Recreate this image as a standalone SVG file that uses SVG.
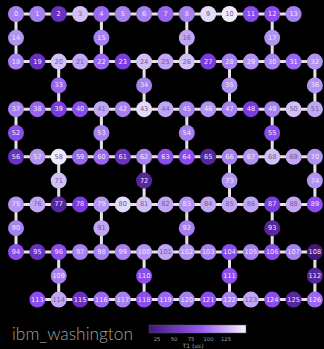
<svg xmlns="http://www.w3.org/2000/svg" width="324" height="349" viewBox="0 0 324 349">
<defs>
<style>
.e{stroke:#e2e2e2;stroke-width:3;fill:none}
text.n{font-family:"DejaVu Sans",sans-serif;font-size:6.6px;text-anchor:middle;dominant-baseline:central;fill:#efe9fb}
.s1{fill:#42187a}.s2{fill:#56269e}.s3{fill:#6a30c2}.s4{fill:#7a3ce0}.s5{fill:#8a4cec}.s6{fill:#9a66f0}
.s7{fill:#a680f0}.s8{fill:#b292f3}.s9{fill:#c2a6f5}.s10{fill:#d2bff7}.s11{fill:#e4d9fa}.s12{fill:#f0e9fd}
.s9+text.n,.s10+text.n,.s11+text.n,.s12+text.n{fill:#6e5f8c}
.lb{font-family:"DejaVu Sans",sans-serif;fill:#a0a0a0}
</style>
<linearGradient id="cb" x1="0" x2="1" y1="0" y2="0">
<stop offset="0" stop-color="#40187e"/><stop offset="0.55" stop-color="#9a5cf5"/><stop offset="1" stop-color="#f7f3ff"/>
</linearGradient>
</defs>
<rect width="324" height="349" fill="#000"/>
<g id="connectors">
<path class="e" d="M16 14H293.6M16 61.6H314.9M16 109.2H314.9M16 156.8H314.9M16 204.4H314.9M16 252H314.9M37.4 299.6H314.9"/>
<path class="e" d="M16 14V61.6M101.4 14V61.6M186.8 14V61.6M272.2 14V61.6M58.7 61.6V109.2M144.1 61.6V109.2M229.5 61.6V109.2M314.9 61.6V109.2M16 109.2V156.8M101.4 109.2V156.8M186.8 109.2V156.8M272.2 109.2V156.8M58.7 156.8V204.4M144.1 156.8V204.4M229.5 156.8V204.4M314.9 156.8V204.4M16 204.4V252M101.4 204.4V252M186.8 204.4V252M272.2 204.4V252M58.7 252V299.6M144.1 252V299.6M229.5 252V299.6M314.9 252V299.6"/>
</g>
<g id="q0"><circle class="s7" cx="16" cy="14" r="8"/><text class="n" x="16" y="14">0</text></g>
<g id="q1"><circle class="s7" cx="37.4" cy="14" r="8"/><text class="n" x="37.4" y="14">1</text></g>
<g id="q2"><circle class="s3" cx="58.7" cy="14" r="8"/><text class="n" x="58.7" y="14">2</text></g>
<g id="q3"><circle class="s10" cx="80.1" cy="14" r="8"/><text class="n" x="80.1" y="14">3</text></g>
<g id="q4"><circle class="s6" cx="101.4" cy="14" r="8"/><text class="n" x="101.4" y="14">4</text></g>
<g id="q5"><circle class="s7" cx="122.8" cy="14" r="8"/><text class="n" x="122.8" y="14">5</text></g>
<g id="q6"><circle class="s7" cx="144.1" cy="14" r="8"/><text class="n" x="144.1" y="14">6</text></g>
<g id="q7"><circle class="s6" cx="165.5" cy="14" r="8"/><text class="n" x="165.5" y="14">7</text></g>
<g id="q8"><circle class="s7" cx="186.8" cy="14" r="8"/><text class="n" x="186.8" y="14">8</text></g>
<g id="q9"><circle class="s11" cx="208.2" cy="14" r="8"/><text class="n" x="208.2" y="14">9</text></g>
<g id="q10"><circle class="s12" cx="229.5" cy="14" r="8"/><text class="n" x="229.5" y="14">10</text></g>
<g id="q11"><circle class="s5" cx="250.9" cy="14" r="8"/><text class="n" x="250.9" y="14">11</text></g>
<g id="q12"><circle class="s5" cx="272.2" cy="14" r="8"/><text class="n" x="272.2" y="14">12</text></g>
<g id="q13"><circle class="s7" cx="293.6" cy="14" r="8"/><text class="n" x="293.6" y="14">13</text></g>
<g id="q14"><circle class="s8" cx="16" cy="37.8" r="8"/><text class="n" x="16" y="37.8">14</text></g>
<g id="q15"><circle class="s7" cx="101.4" cy="37.8" r="8"/><text class="n" x="101.4" y="37.8">15</text></g>
<g id="q16"><circle class="s9" cx="186.8" cy="37.8" r="8"/><text class="n" x="186.8" y="37.8">16</text></g>
<g id="q17"><circle class="s8" cx="272.2" cy="37.8" r="8"/><text class="n" x="272.2" y="37.8">17</text></g>
<g id="q18"><circle class="s7" cx="16" cy="61.6" r="8"/><text class="n" x="16" y="61.6">18</text></g>
<g id="q19"><circle class="s3" cx="37.4" cy="61.6" r="8"/><text class="n" x="37.4" y="61.6">19</text></g>
<g id="q20"><circle class="s10" cx="58.7" cy="61.6" r="8"/><text class="n" x="58.7" y="61.6">20</text></g>
<g id="q21"><circle class="s9" cx="80.1" cy="61.6" r="8"/><text class="n" x="80.1" y="61.6">21</text></g>
<g id="q22"><circle class="s6" cx="101.4" cy="61.6" r="8"/><text class="n" x="101.4" y="61.6">22</text></g>
<g id="q23"><circle class="s4" cx="122.8" cy="61.6" r="8"/><text class="n" x="122.8" y="61.6">23</text></g>
<g id="q24"><circle class="s10" cx="144.1" cy="61.6" r="8"/><text class="n" x="144.1" y="61.6">24</text></g>
<g id="q25"><circle class="s9" cx="165.5" cy="61.6" r="8"/><text class="n" x="165.5" y="61.6">25</text></g>
<g id="q26"><circle class="s10" cx="186.8" cy="61.6" r="8"/><text class="n" x="186.8" y="61.6">26</text></g>
<g id="q27"><circle class="s4" cx="208.2" cy="61.6" r="8"/><text class="n" x="208.2" y="61.6">27</text></g>
<g id="q28"><circle class="s7" cx="229.5" cy="61.6" r="8"/><text class="n" x="229.5" y="61.6">28</text></g>
<g id="q29"><circle class="s8" cx="250.9" cy="61.6" r="8"/><text class="n" x="250.9" y="61.6">29</text></g>
<g id="q30"><circle class="s7" cx="272.2" cy="61.6" r="8"/><text class="n" x="272.2" y="61.6">30</text></g>
<g id="q31"><circle class="s6" cx="293.6" cy="61.6" r="8"/><text class="n" x="293.6" y="61.6">31</text></g>
<g id="q32"><circle class="s8" cx="314.9" cy="61.6" r="8"/><text class="n" x="314.9" y="61.6">32</text></g>
<g id="q33"><circle class="s6" cx="58.7" cy="85.4" r="8"/><text class="n" x="58.7" y="85.4">33</text></g>
<g id="q34"><circle class="s7" cx="144.1" cy="85.4" r="8"/><text class="n" x="144.1" y="85.4">34</text></g>
<g id="q35"><circle class="s8" cx="229.5" cy="85.4" r="8"/><text class="n" x="229.5" y="85.4">35</text></g>
<g id="q36"><circle class="s8" cx="314.9" cy="85.4" r="8"/><text class="n" x="314.9" y="85.4">36</text></g>
<g id="q37"><circle class="s7" cx="16" cy="109.2" r="8"/><text class="n" x="16" y="109.2">37</text></g>
<g id="q38"><circle class="s6" cx="37.4" cy="109.2" r="8"/><text class="n" x="37.4" y="109.2">38</text></g>
<g id="q39"><circle class="s4" cx="58.7" cy="109.2" r="8"/><text class="n" x="58.7" y="109.2">39</text></g>
<g id="q40"><circle class="s5" cx="80.1" cy="109.2" r="8"/><text class="n" x="80.1" y="109.2">40</text></g>
<g id="q41"><circle class="s9" cx="101.4" cy="109.2" r="8"/><text class="n" x="101.4" y="109.2">41</text></g>
<g id="q42"><circle class="s7" cx="122.8" cy="109.2" r="8"/><text class="n" x="122.8" y="109.2">42</text></g>
<g id="q43"><circle class="s11" cx="144.1" cy="109.2" r="8"/><text class="n" x="144.1" y="109.2">43</text></g>
<g id="q44"><circle class="s9" cx="165.5" cy="109.2" r="8"/><text class="n" x="165.5" y="109.2">44</text></g>
<g id="q45"><circle class="s7" cx="186.8" cy="109.2" r="8"/><text class="n" x="186.8" y="109.2">45</text></g>
<g id="q46"><circle class="s8" cx="208.2" cy="109.2" r="8"/><text class="n" x="208.2" y="109.2">46</text></g>
<g id="q47"><circle class="s7" cx="229.5" cy="109.2" r="8"/><text class="n" x="229.5" y="109.2">47</text></g>
<g id="q48"><circle class="s4" cx="250.9" cy="109.2" r="8"/><text class="n" x="250.9" y="109.2">48</text></g>
<g id="q49"><circle class="s7" cx="272.2" cy="109.2" r="8"/><text class="n" x="272.2" y="109.2">49</text></g>
<g id="q50"><circle class="s10" cx="293.6" cy="109.2" r="8"/><text class="n" x="293.6" y="109.2">50</text></g>
<g id="q51"><circle class="s9" cx="314.9" cy="109.2" r="8"/><text class="n" x="314.9" y="109.2">51</text></g>
<g id="q52"><circle class="s5" cx="16" cy="133" r="8"/><text class="n" x="16" y="133">52</text></g>
<g id="q53"><circle class="s7" cx="101.4" cy="133" r="8"/><text class="n" x="101.4" y="133">53</text></g>
<g id="q54"><circle class="s7" cx="186.8" cy="133" r="8"/><text class="n" x="186.8" y="133">54</text></g>
<g id="q55"><circle class="s5" cx="272.2" cy="133" r="8"/><text class="n" x="272.2" y="133">55</text></g>
<g id="q56"><circle class="s3" cx="16" cy="156.8" r="8"/><text class="n" x="16" y="156.8">56</text></g>
<g id="q57"><circle class="s8" cx="37.4" cy="156.8" r="8"/><text class="n" x="37.4" y="156.8">57</text></g>
<g id="q58"><circle class="s12" cx="58.7" cy="156.8" r="8"/><text class="n" x="58.7" y="156.8">58</text></g>
<g id="q59"><circle class="s6" cx="80.1" cy="156.8" r="8"/><text class="n" x="80.1" y="156.8">59</text></g>
<g id="q60"><circle class="s6" cx="101.4" cy="156.8" r="8"/><text class="n" x="101.4" y="156.8">60</text></g>
<g id="q61"><circle class="s3" cx="122.8" cy="156.8" r="8"/><text class="n" x="122.8" y="156.8">61</text></g>
<g id="q62"><circle class="s7" cx="144.1" cy="156.8" r="8"/><text class="n" x="144.1" y="156.8">62</text></g>
<g id="q63"><circle class="s5" cx="165.5" cy="156.8" r="8"/><text class="n" x="165.5" y="156.8">63</text></g>
<g id="q64"><circle class="s5" cx="186.8" cy="156.8" r="8"/><text class="n" x="186.8" y="156.8">64</text></g>
<g id="q65"><circle class="s2" cx="208.2" cy="156.8" r="8"/><text class="n" x="208.2" y="156.8">65</text></g>
<g id="q66"><circle class="s7" cx="229.5" cy="156.8" r="8"/><text class="n" x="229.5" y="156.8">66</text></g>
<g id="q67"><circle class="s8" cx="250.9" cy="156.8" r="8"/><text class="n" x="250.9" y="156.8">67</text></g>
<g id="q68"><circle class="s10" cx="272.2" cy="156.8" r="8"/><text class="n" x="272.2" y="156.8">68</text></g>
<g id="q69"><circle class="s9" cx="293.6" cy="156.8" r="8"/><text class="n" x="293.6" y="156.8">69</text></g>
<g id="q70"><circle class="s8" cx="314.9" cy="156.8" r="8"/><text class="n" x="314.9" y="156.8">70</text></g>
<g id="q71"><circle class="s10" cx="58.7" cy="180.6" r="8"/><text class="n" x="58.7" y="180.6">71</text></g>
<g id="q72"><circle class="s2" cx="144.1" cy="180.6" r="8"/><text class="n" x="144.1" y="180.6">72</text></g>
<g id="q73"><circle class="s8" cx="229.5" cy="180.6" r="8"/><text class="n" x="229.5" y="180.6">73</text></g>
<g id="q74"><circle class="s8" cx="314.9" cy="180.6" r="8"/><text class="n" x="314.9" y="180.6">74</text></g>
<g id="q75"><circle class="s8" cx="16" cy="204.4" r="8"/><text class="n" x="16" y="204.4">75</text></g>
<g id="q76"><circle class="s9" cx="37.4" cy="204.4" r="8"/><text class="n" x="37.4" y="204.4">76</text></g>
<g id="q77"><circle class="s2" cx="58.7" cy="204.4" r="8"/><text class="n" x="58.7" y="204.4">77</text></g>
<g id="q78"><circle class="s4" cx="80.1" cy="204.4" r="8"/><text class="n" x="80.1" y="204.4">78</text></g>
<g id="q79"><circle class="s8" cx="101.4" cy="204.4" r="8"/><text class="n" x="101.4" y="204.4">79</text></g>
<g id="q80"><circle class="s11" cx="122.8" cy="204.4" r="8"/><text class="n" x="122.8" y="204.4">80</text></g>
<g id="q81"><circle class="s10" cx="144.1" cy="204.4" r="8"/><text class="n" x="144.1" y="204.4">81</text></g>
<g id="q82"><circle class="s9" cx="165.5" cy="204.4" r="8"/><text class="n" x="165.5" y="204.4">82</text></g>
<g id="q83"><circle class="s8" cx="186.8" cy="204.4" r="8"/><text class="n" x="186.8" y="204.4">83</text></g>
<g id="q84"><circle class="s9" cx="208.2" cy="204.4" r="8"/><text class="n" x="208.2" y="204.4">84</text></g>
<g id="q85"><circle class="s9" cx="229.5" cy="204.4" r="8"/><text class="n" x="229.5" y="204.4">85</text></g>
<g id="q86"><circle class="s9" cx="250.9" cy="204.4" r="8"/><text class="n" x="250.9" y="204.4">86</text></g>
<g id="q87"><circle class="s4" cx="272.2" cy="204.4" r="8"/><text class="n" x="272.2" y="204.4">87</text></g>
<g id="q88"><circle class="s9" cx="293.6" cy="204.4" r="8"/><text class="n" x="293.6" y="204.4">88</text></g>
<g id="q89"><circle class="s5" cx="314.9" cy="204.4" r="8"/><text class="n" x="314.9" y="204.4">89</text></g>
<g id="q90"><circle class="s7" cx="16" cy="228.2" r="8"/><text class="n" x="16" y="228.2">90</text></g>
<g id="q91"><circle class="s9" cx="101.4" cy="228.2" r="8"/><text class="n" x="101.4" y="228.2">91</text></g>
<g id="q92"><circle class="s7" cx="186.8" cy="228.2" r="8"/><text class="n" x="186.8" y="228.2">92</text></g>
<g id="q93"><circle class="s2" cx="272.2" cy="228.2" r="8"/><text class="n" x="272.2" y="228.2">93</text></g>
<g id="q94"><circle class="s5" cx="16" cy="252" r="8"/><text class="n" x="16" y="252">94</text></g>
<g id="q95"><circle class="s3" cx="37.4" cy="252" r="8"/><text class="n" x="37.4" y="252">95</text></g>
<g id="q96"><circle class="s5" cx="58.7" cy="252" r="8"/><text class="n" x="58.7" y="252">96</text></g>
<g id="q97"><circle class="s7" cx="80.1" cy="252" r="8"/><text class="n" x="80.1" y="252">97</text></g>
<g id="q98"><circle class="s7" cx="101.4" cy="252" r="8"/><text class="n" x="101.4" y="252">98</text></g>
<g id="q99"><circle class="s7" cx="122.8" cy="252" r="8"/><text class="n" x="122.8" y="252">99</text></g>
<g id="q100"><circle class="s8" cx="144.1" cy="252" r="8"/><text class="n" x="144.1" y="252">100</text></g>
<g id="q101"><circle class="s9" cx="165.5" cy="252" r="8"/><text class="n" x="165.5" y="252">101</text></g>
<g id="q102"><circle class="s8" cx="186.8" cy="252" r="8"/><text class="n" x="186.8" y="252">102</text></g>
<g id="q103"><circle class="s7" cx="208.2" cy="252" r="8"/><text class="n" x="208.2" y="252">103</text></g>
<g id="q104"><circle class="s5" cx="229.5" cy="252" r="8"/><text class="n" x="229.5" y="252">104</text></g>
<g id="q105"><circle class="s7" cx="250.9" cy="252" r="8"/><text class="n" x="250.9" y="252">105</text></g>
<g id="q106"><circle class="s5" cx="272.2" cy="252" r="8"/><text class="n" x="272.2" y="252">106</text></g>
<g id="q107"><circle class="s7" cx="293.6" cy="252" r="8"/><text class="n" x="293.6" y="252">107</text></g>
<g id="q108"><circle class="s1" cx="314.9" cy="252" r="8"/><text class="n" x="314.9" y="252">108</text></g>
<g id="q109"><circle class="s7" cx="58.7" cy="275.8" r="8"/><text class="n" x="58.7" y="275.8">109</text></g>
<g id="q110"><circle class="s5" cx="144.1" cy="275.8" r="8"/><text class="n" x="144.1" y="275.8">110</text></g>
<g id="q111"><circle class="s5" cx="229.5" cy="275.8" r="8"/><text class="n" x="229.5" y="275.8">111</text></g>
<g id="q112"><circle class="s2" cx="314.9" cy="275.8" r="8"/><text class="n" x="314.9" y="275.8">112</text></g>
<g id="q113"><circle class="s5" cx="37.4" cy="299.6" r="8"/><text class="n" x="37.4" y="299.6">113</text></g>
<g id="q114"><circle class="s9" cx="58.7" cy="299.6" r="8"/><text class="n" x="58.7" y="299.6">114</text></g>
<g id="q115"><circle class="s3" cx="80.1" cy="299.6" r="8"/><text class="n" x="80.1" y="299.6">115</text></g>
<g id="q116"><circle class="s6" cx="101.4" cy="299.6" r="8"/><text class="n" x="101.4" y="299.6">116</text></g>
<g id="q117"><circle class="s7" cx="122.8" cy="299.6" r="8"/><text class="n" x="122.8" y="299.6">117</text></g>
<g id="q118"><circle class="s5" cx="144.1" cy="299.6" r="8"/><text class="n" x="144.1" y="299.6">118</text></g>
<g id="q119"><circle class="s6" cx="165.5" cy="299.6" r="8"/><text class="n" x="165.5" y="299.6">119</text></g>
<g id="q120"><circle class="s7" cx="186.8" cy="299.6" r="8"/><text class="n" x="186.8" y="299.6">120</text></g>
<g id="q121"><circle class="s5" cx="208.2" cy="299.6" r="8"/><text class="n" x="208.2" y="299.6">121</text></g>
<g id="q122"><circle class="s7" cx="229.5" cy="299.6" r="8"/><text class="n" x="229.5" y="299.6">122</text></g>
<g id="q123"><circle class="s9" cx="250.9" cy="299.6" r="8"/><text class="n" x="250.9" y="299.6">123</text></g>
<g id="q124"><circle class="s5" cx="272.2" cy="299.6" r="8"/><text class="n" x="272.2" y="299.6">124</text></g>
<g id="q125"><circle class="s2" cx="293.6" cy="299.6" r="8"/><text class="n" x="293.6" y="299.6">125</text></g>
<g id="q126"><circle class="s6" cx="314.9" cy="299.6" r="8"/><text class="n" x="314.9" y="299.6">126</text></g>
<g id="title"><text x="12" y="339.5" font-family="Lato,'Open Sans',sans-serif" font-weight="300" font-size="17.5" fill="#a2a2a2" textLength="121" lengthAdjust="spacingAndGlyphs">ibm_washington</text></g>
<g id="colorbar">
<rect x="149" y="325" width="97" height="8" fill="url(#cb)" stroke="#555" stroke-width="0.5"/>
<g class="lb" font-size="5.2" text-anchor="middle">
<text x="157" y="341">25</text><text x="174" y="341">50</text><text x="191" y="341">75</text><text x="208.5" y="341">100</text><text x="226" y="341">125</text>
</g>
<text class="lb" x="193" y="348" font-size="6" text-anchor="middle">T1 (us)</text>
</g>
</svg>
